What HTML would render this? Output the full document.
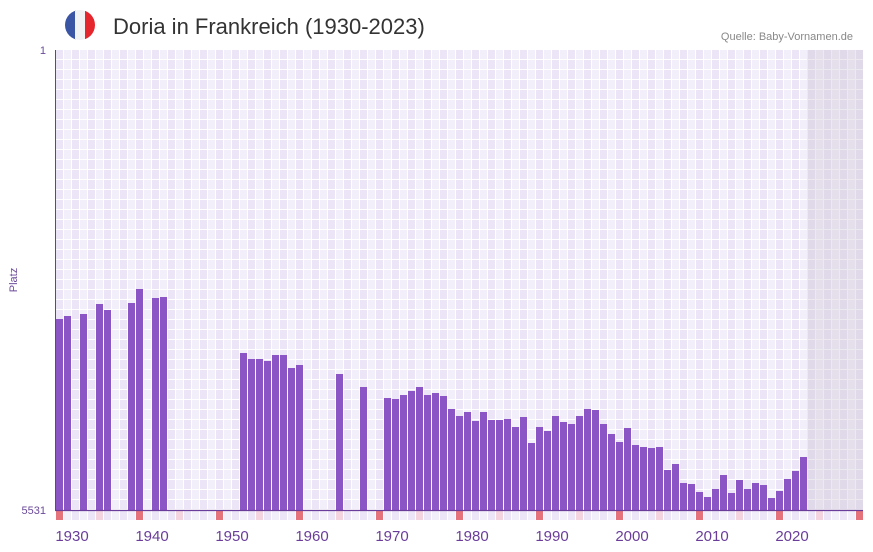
<!DOCTYPE html>
<html><head><meta charset="utf-8"><style>
html,body{margin:0;padding:0;background:#fff;width:873px;height:552px;overflow:hidden}
svg{display:block;font-family:"Liberation Sans","DejaVu Sans",sans-serif}
</style></head><body>
<svg width="873" height="552" viewBox="0 0 873 552" xmlns="http://www.w3.org/2000/svg">
<defs>
<pattern id="g" patternUnits="userSpaceOnUse" x="56" y="50" width="16" height="10">
<rect x="0" y="0" width="16" height="10" fill="#fff"/>
<rect x="0" y="0" width="7" height="9" fill="#ebe5f7"/>
<rect x="8" y="0" width="7" height="9" fill="#f3effa"/>
</pattern>
<pattern id="m" patternUnits="userSpaceOnUse" x="56" y="511" width="16" height="10">
<rect x="0" y="0" width="16" height="10" fill="#fff"/>
<rect x="0" y="0" width="7" height="9" fill="#ebe5f7"/>
<rect x="8" y="0" width="7" height="9" fill="#f3effa"/>
</pattern>
<clipPath id="c"><circle cx="80" cy="25" r="15"/></clipPath>
</defs>
<g clip-path="url(#c)">
<rect x="65" y="10" width="11" height="30" fill="#3a55a4"/>
<rect x="75" y="10" width="10" height="30" fill="#f1f2f4"/>
<rect x="85" y="10" width="11" height="30" fill="#e6262d"/>
</g>
<text x="113" y="34" font-size="22" fill="#333">Doria in Frankreich (1930-2023)</text>
<text x="853" y="40" font-size="11" fill="#888" text-anchor="end">Quelle: Baby-Vornamen.de</text>
<rect x="56" y="50" width="807" height="460" fill="url(#g)"/>
<rect x="807" y="50" width="56" height="460" fill="#cfc9d6" opacity="0.4"/>
<rect x="56" y="511" width="807" height="9" fill="url(#m)"/>
<g fill="#e5737b">
<rect x="56" y="511" width="7" height="9"/><rect x="136" y="511" width="7" height="9"/><rect x="216" y="511" width="7" height="9"/><rect x="296" y="511" width="7" height="9"/><rect x="376" y="511" width="7" height="9"/><rect x="456" y="511" width="7" height="9"/><rect x="536" y="511" width="7" height="9"/><rect x="616" y="511" width="7" height="9"/><rect x="696" y="511" width="7" height="9"/><rect x="776" y="511" width="7" height="9"/><rect x="856" y="511" width="7" height="9"/>
</g>
<g fill="#f4d5df">
<rect x="96" y="511" width="7" height="9"/><rect x="176" y="511" width="7" height="9"/><rect x="256" y="511" width="7" height="9"/><rect x="336" y="511" width="7" height="9"/><rect x="416" y="511" width="7" height="9"/><rect x="496" y="511" width="7" height="9"/><rect x="576" y="511" width="7" height="9"/><rect x="656" y="511" width="7" height="9"/><rect x="736" y="511" width="7" height="9"/><rect x="816" y="511" width="7" height="9"/>
</g>
<g fill="#8c55c6">
<rect x="56" y="319" width="7" height="191"/>
<rect x="64" y="316" width="7" height="194"/>
<rect x="80" y="314" width="7" height="196"/>
<rect x="96" y="304" width="7" height="206"/>
<rect x="104" y="310" width="7" height="200"/>
<rect x="128" y="303" width="7" height="207"/>
<rect x="136" y="289" width="7" height="221"/>
<rect x="152" y="298" width="7" height="212"/>
<rect x="160" y="297" width="7" height="213"/>
<rect x="240" y="353" width="7" height="157"/>
<rect x="248" y="359" width="7" height="151"/>
<rect x="256" y="359" width="7" height="151"/>
<rect x="264" y="361" width="7" height="149"/>
<rect x="272" y="355" width="7" height="155"/>
<rect x="280" y="355" width="7" height="155"/>
<rect x="288" y="368" width="7" height="142"/>
<rect x="296" y="365" width="7" height="145"/>
<rect x="336" y="374" width="7" height="136"/>
<rect x="360" y="387" width="7" height="123"/>
<rect x="384" y="398" width="7" height="112"/>
<rect x="392" y="399" width="7" height="111"/>
<rect x="400" y="395" width="7" height="115"/>
<rect x="408" y="391" width="7" height="119"/>
<rect x="416" y="387" width="7" height="123"/>
<rect x="424" y="395" width="7" height="115"/>
<rect x="432" y="393" width="7" height="117"/>
<rect x="440" y="396" width="7" height="114"/>
<rect x="448" y="409" width="7" height="101"/>
<rect x="456" y="416" width="7" height="94"/>
<rect x="464" y="412" width="7" height="98"/>
<rect x="472" y="421" width="7" height="89"/>
<rect x="480" y="412" width="7" height="98"/>
<rect x="488" y="420" width="7" height="90"/>
<rect x="496" y="420" width="7" height="90"/>
<rect x="504" y="419" width="7" height="91"/>
<rect x="512" y="427" width="7" height="83"/>
<rect x="520" y="417" width="7" height="93"/>
<rect x="528" y="443" width="7" height="67"/>
<rect x="536" y="427" width="7" height="83"/>
<rect x="544" y="431" width="7" height="79"/>
<rect x="552" y="416" width="7" height="94"/>
<rect x="560" y="422" width="7" height="88"/>
<rect x="568" y="424" width="7" height="86"/>
<rect x="576" y="416" width="7" height="94"/>
<rect x="584" y="409" width="7" height="101"/>
<rect x="592" y="410" width="7" height="100"/>
<rect x="600" y="424" width="7" height="86"/>
<rect x="608" y="434" width="7" height="76"/>
<rect x="616" y="442" width="7" height="68"/>
<rect x="624" y="428" width="7" height="82"/>
<rect x="632" y="445" width="7" height="65"/>
<rect x="640" y="447" width="7" height="63"/>
<rect x="648" y="448" width="7" height="62"/>
<rect x="656" y="447" width="7" height="63"/>
<rect x="664" y="470" width="7" height="40"/>
<rect x="672" y="464" width="7" height="46"/>
<rect x="680" y="483" width="7" height="27"/>
<rect x="688" y="484" width="7" height="26"/>
<rect x="696" y="492" width="7" height="18"/>
<rect x="704" y="497" width="7" height="13"/>
<rect x="712" y="489" width="7" height="21"/>
<rect x="720" y="475" width="7" height="35"/>
<rect x="728" y="493" width="7" height="17"/>
<rect x="736" y="480" width="7" height="30"/>
<rect x="744" y="489" width="7" height="21"/>
<rect x="752" y="483" width="7" height="27"/>
<rect x="760" y="485" width="7" height="25"/>
<rect x="768" y="498" width="7" height="12"/>
<rect x="776" y="491" width="7" height="19"/>
<rect x="784" y="479" width="7" height="31"/>
<rect x="792" y="471" width="7" height="39"/>
<rect x="800" y="457" width="7" height="53"/>
</g>
<line x1="55.5" y1="50" x2="55.5" y2="510.5" stroke="#6a3d9a" stroke-width="1"/>
<line x1="55" y1="510.5" x2="863" y2="510.5" stroke="#6a3d9a" stroke-width="1.2"/>
<g font-size="11" fill="#6a4a9a" text-anchor="end">
<text x="46" y="54">1</text>
<text x="46" y="514">5531</text>
</g>
<text transform="translate(17,280) rotate(-90)" font-size="11" fill="#6a4a9a" text-anchor="middle">Platz</text>
<g font-size="15" fill="#6a3d9a" text-anchor="middle">
<text x="72" y="541">1930</text><text x="152" y="541">1940</text><text x="232" y="541">1950</text><text x="312" y="541">1960</text><text x="392" y="541">1970</text><text x="472" y="541">1980</text><text x="552" y="541">1990</text><text x="632" y="541">2000</text><text x="712" y="541">2010</text><text x="792" y="541">2020</text>
</g>
</svg>
</body></html>
